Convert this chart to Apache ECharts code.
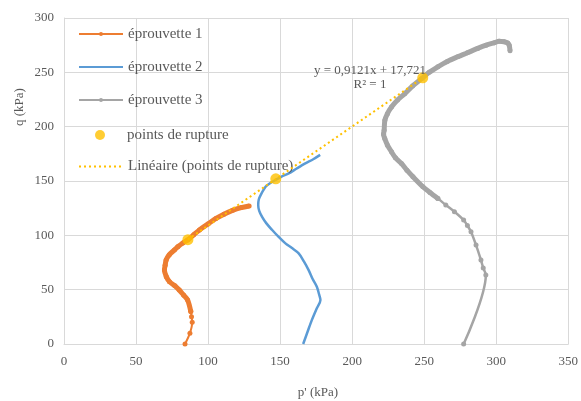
<!DOCTYPE html>
<html>
<head>
<meta charset="utf-8">
<script src="https://cdn.jsdelivr.net/npm/echarts@6/dist/echarts.min.js"></script>
<style>
html,body{margin:0;padding:0;background:#fff;}
#chart{width:581px;height:401px;}
</style>
</head>
<body>
<div id="chart"></div>
<script>
// ---- data ----
var xTicks = [0, 50, 100, 150, 200, 250, 300, 350];
var yTicks = [0, 50, 100, 150, 200, 250, 300];

var ep1P = [84, 87.4, 89, 88.5, 88, 85.8, 83, 80, 77, 73.2, 71, 69.7, 70.2, 70.9, 73, 76.6, 79, 82.5, 85.8, 90, 94, 100, 105.5, 111, 117, 123, 128.5];
var ep1Q = [0, 10, 20, 25, 30, 40.5, 45, 49.7, 53.5, 57.4, 62, 68, 72.5, 77.3, 82, 86.5, 89.5, 93, 95.7, 100.5, 105, 110.5, 115.5, 119.5, 123, 125.5, 127];

var ep2P = [166, 169, 172, 175.5, 178, 177, 175.5, 172.5, 169.8, 166.5, 162.9, 158, 153.7, 149, 144.5, 140.5, 137.5, 135.5, 134.8, 135.2, 136.5, 139.9, 143, 146.8, 151, 156, 161.5, 167.5, 173, 177.8];
var ep2Q = [0, 11, 22, 33, 40.5, 46, 52.7, 60, 68, 76, 83.4, 88.5, 92.6, 98.5, 104.9, 111, 117, 122.5, 128, 133, 137, 144.7, 148, 150.9, 154, 157, 161.5, 166.2, 170, 174];

var ep3P = [277.4, 292.8, 291, 289.4, 286, 282.5, 280, 277.4, 271, 265, 259.5, 254, 249.1, 242.2, 238, 234.2, 230, 227.3, 224.5, 222.6, 221.8, 222.2, 222.7, 224.5, 227.3, 231.5, 236.5, 242, 248.4, 253.5, 259.5, 266, 273.3, 280, 287.1, 293, 298.6, 302, 305.5, 308, 309, 309.6];
var ep3Q = [0, 63.5, 70, 77.3, 91, 103.3, 109, 114, 121.7, 128, 134, 139.5, 144.7, 153.9, 160, 166.2, 171.5, 176.9, 183, 189.2, 193, 196.6, 205.8, 212, 218, 224.5, 230.3, 237.5, 244.4, 250, 255.1, 260, 264.3, 268, 272, 275, 277.2, 278.5, 278.2, 277, 275, 269.8];

var ruptP = [86, 147, 249];
var ruptQ = [96, 152, 245];

var linP = [86, 249];
var linQ = [96.2, 244.8];

var seriesNames = ['éprouvette 1', 'éprouvette 2', 'éprouvette 3', 'points de rupture', 'Linéaire (points de rupture)'];
var eqText = 'y = 0,9121x + 17,721';
var r2Text = 'R² = 1';
var xTitle = "p' (kPa)";
var yTitle = 'q (kPa)';

function pairs(a, b) { return a.map(function (v, i) { return [v, b[i]]; }); }

var SERIF = '"Liberation Serif", "DejaVu Serif", serif';
var TXT = '#595959';
var GRIDC = '#d9d9d9';
var C1 = '#ED7D31', C2 = '#5B9BD5', C3 = '#A5A5A5', CY = '#FFC000';

var ep1 = pairs(ep1P, ep1Q);
var ep3 = pairs(ep3P, ep3Q);
var ep1Split = 4, ep3Split = 10; // where the dense (thick) part of the curve begins

var legendText = {color: TXT, fontFamily: SERIF, fontSize: 15};
var TRANSP = 'rgba(0,0,0,0)';

var chart = echarts.init(document.getElementById('chart'), null, {renderer: 'canvas'});
chart.setOption({
  animation: false,
  backgroundColor: '#ffffff',
  grid: {left: 64, right: 10, top: 18, bottom: 57, containLabel: false},
  xAxis: {
    type: 'value', min: xTicks[0], max: xTicks[xTicks.length - 1], interval: 50,
    axisLine: {show: true, lineStyle: {color: GRIDC, width: 1}},
    axisTick: {show: false},
    axisLabel: {color: TXT, fontFamily: SERIF, fontSize: 13, margin: 11},
    splitLine: {show: true, lineStyle: {color: GRIDC, width: 1}}
  },
  yAxis: {
    type: 'value', min: yTicks[0], max: yTicks[yTicks.length - 1], interval: 50,
    axisLine: {show: true, lineStyle: {color: GRIDC, width: 1}},
    axisTick: {show: false},
    axisLabel: {color: TXT, fontFamily: SERIF, fontSize: 13, margin: 10},
    splitLine: {show: true, lineStyle: {color: GRIDC, width: 1}}
  },
  legend: [
    {orient: 'vertical', left: 78, top: 26.5, padding: 0,
     itemWidth: 44, itemHeight: 5, itemGap: 18, textStyle: legendText,
     data: [
       {name: seriesNames[0]},
       {name: seriesNames[1], itemStyle: {color: TRANSP}},
       {name: seriesNames[2]}
     ]},
    {orient: 'vertical', left: 95, top: 127.5, padding: 0,
     itemWidth: 44, itemHeight: 10, textStyle: legendText,
     data: [{name: seriesNames[3], icon: 'circle'}]},
    {orient: 'vertical', left: 78, top: 159, padding: 0,
     itemWidth: 44, itemHeight: 5, textStyle: legendText,
     data: [{name: seriesNames[4], itemStyle: {color: TRANSP}}]}
  ],
  graphic: [
    {type: 'text', x: 20, y: 107, rotation: Math.PI / 2,
     style: {text: yTitle, fill: TXT, font: '13px ' + SERIF, align: 'center', verticalAlign: 'middle'}},
    {type: 'text', x: 318, y: 393,
     style: {text: xTitle, fill: TXT, font: '13px ' + SERIF, align: 'center', verticalAlign: 'middle'}},
    {type: 'text', x: 370, y: 71, z: 100,
     style: {text: eqText, fill: TXT, font: '13px ' + SERIF, align: 'center', verticalAlign: 'middle'}},
    {type: 'text', x: 370, y: 85, z: 100,
     style: {text: r2Text, fill: TXT, font: '13px ' + SERIF, align: 'center', verticalAlign: 'middle'}}
  ],
  series: [
    {name: seriesNames[0], type: 'line', data: ep1.slice(0, ep1Split + 1), smooth: 0.3,
     color: C1, lineStyle: {width: 2, color: C1},
     symbol: 'circle', symbolSize: 5, showSymbol: true, itemStyle: {color: C1}},
    {type: 'line', data: ep1.slice(ep1Split), smooth: 0.3,
     lineStyle: {width: 5, color: C1},
     symbol: 'circle', symbolSize: 5, showSymbol: true, itemStyle: {color: C1}},
    {name: seriesNames[1], type: 'line', data: pairs(ep2P, ep2Q), smooth: 0.3,
     color: C2, lineStyle: {width: 2.5, color: C2},
     symbol: 'none', showSymbol: false, itemStyle: {color: C2}},
    {name: seriesNames[2], type: 'line', data: ep3.slice(0, ep3Split + 1), smooth: 0.3,
     color: C3, lineStyle: {width: 2.5, color: C3},
     symbol: 'circle', symbolSize: 5, showSymbol: true, itemStyle: {color: C3}},
    {type: 'line', data: ep3.slice(ep3Split), smooth: 0.3,
     lineStyle: {width: 5, color: C3},
     symbol: 'circle', symbolSize: 5, showSymbol: true, itemStyle: {color: C3}},
    {name: seriesNames[3], type: 'scatter', data: pairs(ruptP, ruptQ), z: 4,
     symbol: 'circle', symbolSize: 11, itemStyle: {color: CY}},
    {name: seriesNames[4], type: 'line', data: pairs(linP, linQ), z: 5,
     color: CY, lineStyle: {width: 2, type: [2, 3], color: CY},
     symbol: 'none', showSymbol: false, itemStyle: {color: CY}}
  ]
});
</script>
</body>
</html>
